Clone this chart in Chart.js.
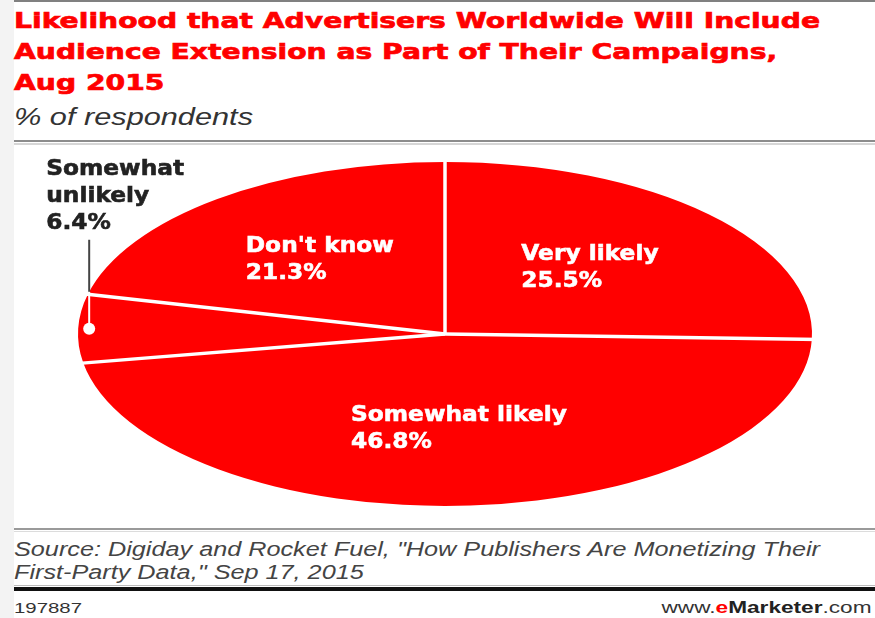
<!DOCTYPE html>
<html>
<head>
<meta charset="utf-8">
<script src="https://cdn.jsdelivr.net/npm/chart.js@4.4.1/dist/chart.umd.min.js"></script>
<style>
  html, body { margin: 0; padding: 0; }
  body { width: 875px; height: 618px; position: relative; overflow: hidden; background: #fff; }
  #strip { position: absolute; left: 0; top: 0; width: 14px; height: 618px; background: #f3f3f3; }
  .rule { position: absolute; left: 14px; right: 0; }
  .txt { position: absolute; left: 14px; white-space: pre; transform-origin: left center; }
  #title { top: 5px; font: bold 22px "DejaVu Sans", sans-serif; line-height: 31px; color: #ff0000;
           -webkit-text-stroke: 0.7px #ff0000; }
  #sub { top: 104px; font: italic 23px "Liberation Sans", sans-serif; line-height: 27px; color: #333; }
  #source { top: 538px; font: italic 20px "Liberation Sans", sans-serif; line-height: 23px; color: #444; }
  #chartId { top: 599px; font: 14px "Liberation Sans", sans-serif; line-height: 18px; color: #333; }
  #brand { position: absolute; right: 3px; top: 598px; white-space: pre; font: 16px "Liberation Sans", sans-serif;
           line-height: 20px; color: #333; transform-origin: right center; }
  #brand b { color: #222; }
  #brand .e { color: #ff0000; }
  #chartWrap { position: absolute; left: 0; top: 146px; width: 875px; height: 376px; }
</style>
</head>
<body>
<div id="strip"></div>
<div class="rule" style="top:0;height:2px;background:#808080"></div>
<div id="title" class="txt" data-w="806">Likelihood that Advertisers Worldwide Will Include
Audience Extension as Part of Their Campaigns,
Aug 2015</div>
<div id="sub" class="txt" data-w="239">% of respondents</div>
<div class="rule" style="top:140px;height:2px;background:#8c8c8c"></div>
<div class="rule" style="top:143px;height:2px;background:#d6d6d6"></div>

<div id="chartWrap"><canvas id="pie"></canvas></div>

<div class="rule" style="top:528px;height:2px;background:#9a9a9a"></div>
<div class="rule" style="top:531px;height:1px;background:#dcdcdc"></div>
<div id="source" class="txt" data-w="806">Source: Digiday and Rocket Fuel, "How Publishers Are Monetizing Their
First-Party Data," Sep 17, 2015</div>
<div class="rule" style="top:585px;height:1px;background:#bbb"></div>
<div class="rule" style="top:587px;height:4px;background:#111"></div>
<div id="chartId" class="txt" data-w="68">197887</div>
<div id="brand" data-w="210">www.<b><span class="e">e</span>Marketer</b>.com</div>

<script>
// data
const categories = [['Very likely'], ['Somewhat likely'], ['Somewhat', 'unlikely'], ["Don't know"]];
const values = [25.5, 46.8, 6.4, 21.3];

const RED = '#ff0000';
const STRETCH = 367 / 172;   // pie is drawn as a flattened ellipse
const LABEL_FONT = 'bold 22px "DejaVu Sans", sans-serif';
const LINE_H = 27;

// stretch the html text blocks to the widths of the original
document.querySelectorAll('[data-w]').forEach(el => {
  const w = el.getBoundingClientRect().width;
  el.style.transform = `scaleX(${(+el.dataset.w / w).toFixed(4)})`;
});

function ellipsePoint(arc, angle, frac) {
  return {
    x: arc.x + Math.cos(angle) * arc.outerRadius * frac * STRETCH,
    y: arc.y + Math.sin(angle) * arc.outerRadius * frac
  };
}

function drawLines(ctx, lines, left, firstY, color) {
  ctx.fillStyle = color;
  ctx.strokeStyle = color;
  ctx.lineWidth = 0.6;
  ctx.textAlign = 'left';
  ctx.textBaseline = 'middle';
  lines.forEach((t, i) => {
    ctx.save();
    ctx.translate(left, firstY + i * LINE_H);
    ctx.scale(1.06, 1);
    ctx.fillText(t, 0, 0);
    ctx.strokeText(t, 0, 0);
    ctx.restore();
  });
}

const ellipsePie = {
  id: 'ellipsePie',
  beforeDatasetsDraw(chart) {
    const a = chart.getDatasetMeta(0).data[0];
    const ctx = chart.ctx;
    ctx.save();
    ctx.translate(a.x, a.y);
    ctx.scale(STRETCH, 1);
    ctx.translate(-a.x, -a.y);
  },
  afterDatasetsDraw(chart) {
    chart.ctx.restore();
  },
  afterDraw(chart) {
    const ctx = chart.ctx;
    const arcs = chart.getDatasetMeta(0).data;
    const labels = chart.data.labels;
    const vals = chart.data.datasets[0].data;

    // white separators between slices
    ctx.save();
    ctx.strokeStyle = '#fff';
    ctx.lineWidth = 3.5;
    arcs.forEach(arc => {
      const p = ellipsePoint(arc, arc.startAngle, 1.02);
      ctx.beginPath();
      ctx.moveTo(arc.x, arc.y);
      ctx.lineTo(p.x, p.y);
      ctx.stroke();
    });
    ctx.restore();

    ctx.font = LABEL_FONT;
    arcs.forEach((arc, i) => {
      const mid = (arc.startAngle + arc.endAngle) / 2;
      const lines = labels[i].concat([vals[i].toFixed(1) + '%']);
      if (vals[i] >= 10) {
        const c = ellipsePoint(arc, mid, 0.55);
        const w = Math.max(...lines.map(t => ctx.measureText(t).width)) * 1.06;
        drawLines(ctx, lines, c.x - w / 2, c.y - (lines.length - 1) * LINE_H / 2, '#fff');
      } else {
        // small slice: dot + leader line + outside label
        const d = ellipsePoint(arc, mid, 0.97);
        const rx = arc.outerRadius * STRETCH;
        const edgeY = arc.y - arc.outerRadius * Math.sqrt(1 - Math.pow((d.x - arc.x) / rx, 2));
        const topY = d.y - 89;
        ctx.save();
        ctx.lineWidth = 2;
        ctx.strokeStyle = '#444';
        ctx.beginPath(); ctx.moveTo(d.x, edgeY); ctx.lineTo(d.x, topY); ctx.stroke();
        ctx.strokeStyle = '#fff';
        ctx.beginPath(); ctx.moveTo(d.x, d.y); ctx.lineTo(d.x, edgeY); ctx.stroke();
        ctx.fillStyle = '#fff';
        ctx.beginPath(); ctx.arc(d.x, d.y, 6, 0, Math.PI * 2); ctx.fill();
        ctx.restore();
        ctx.font = LABEL_FONT;
        drawLines(ctx, lines, d.x - 43, topY - 16 - (lines.length - 1) * LINE_H, '#222');
      }
    });
  }
};

new Chart(document.getElementById('pie'), {
  type: 'pie',
  data: {
    labels: categories,
    datasets: [{
      data: values,
      backgroundColor: RED,
      borderWidth: 0,
      radius: 172
    }]
  },
  options: {
    responsive: true,
    maintainAspectRatio: false,
    animation: false,
    events: [],
    layout: { padding: { left: 15, top: 16, bottom: 16 } },
    plugins: {
      legend: { display: false },
      tooltip: { enabled: false }
    }
  },
  plugins: [ellipsePie]
});
</script>
</body>
</html>
